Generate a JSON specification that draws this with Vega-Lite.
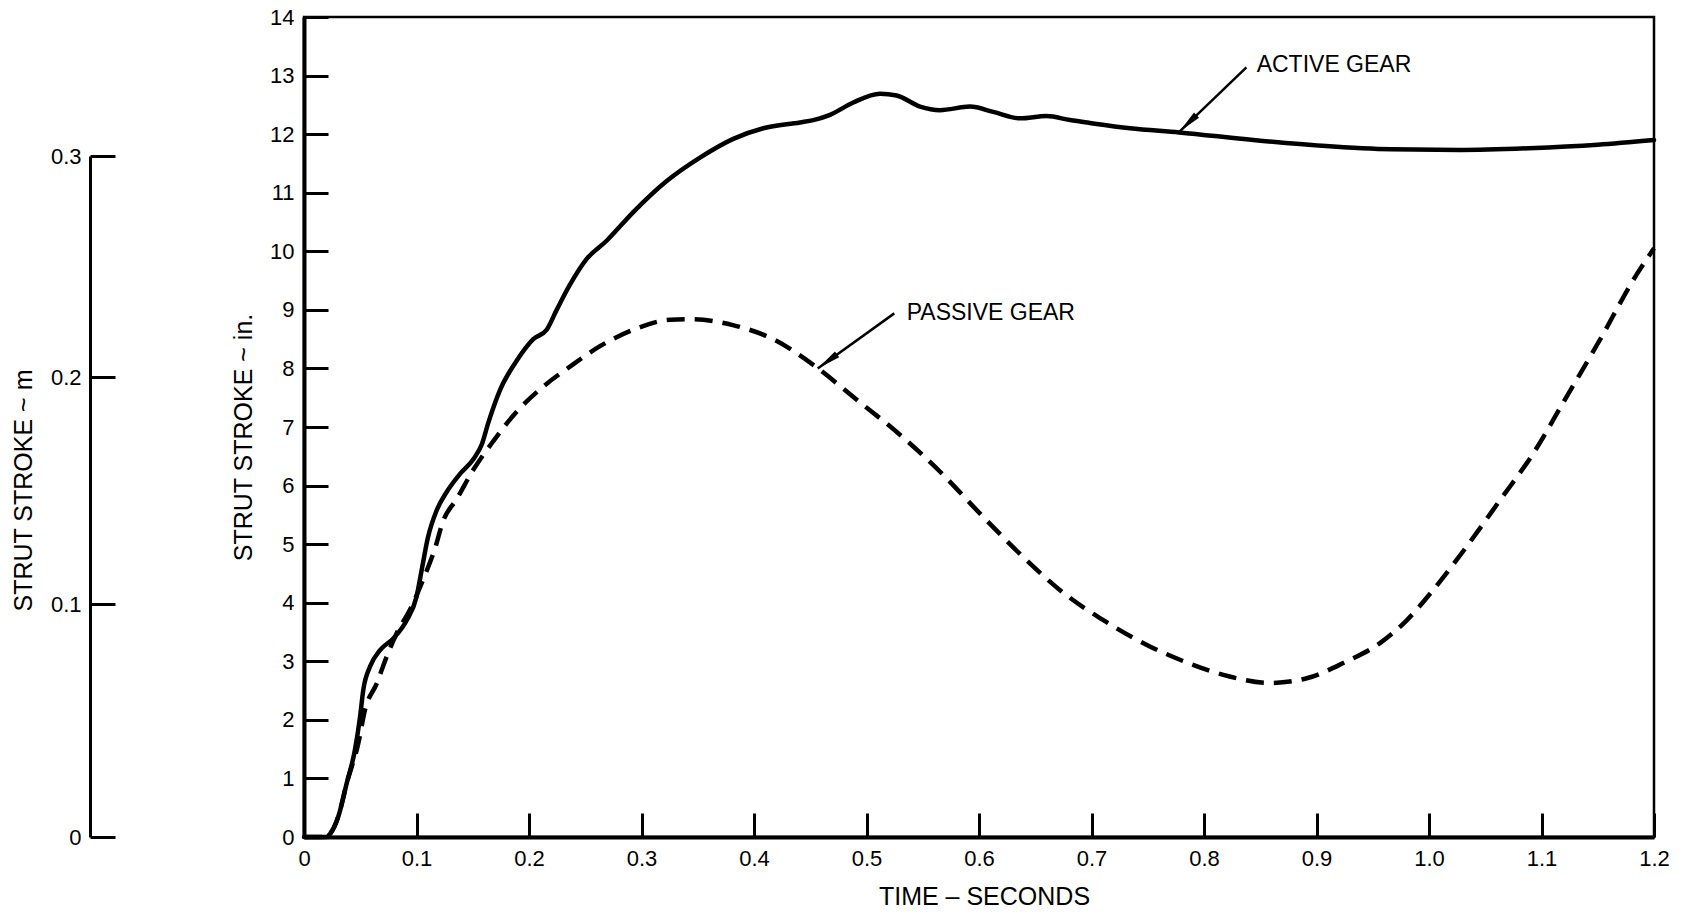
{
  "$schema": "https://vega.github.io/schema/vega-lite/v6.json",
  "width": 1350,
  "height": 820,
  "autosize": {"type": "none"},
  "padding": {"left": 304, "top": 17, "right": 36, "bottom": 75},
  "background": "white",
  "config": {
    "view": {"stroke": "black", "strokeWidth": 2.5},
    "font": "Liberation Sans",
    "axis": {
      "labelFont": "Liberation Sans", "titleFont": "Liberation Sans",
      "labelFontSize": 22, "titleFontSize": 25, "titleFontWeight": "normal",
      "labelColor": "black", "titleColor": "black", "domainColor": "black", "tickColor": "black",
      "grid": false, "labelFlush": false, "labelOverlap": false
    }
  },
  "datasets": {
    "active": [
      {"t": 0, "v": 0}, {"t": 0.02, "v": 0}, {"t": 0.023, "v": 0.05}, {"t": 0.0305, "v": 0.35},
      {"t": 0.038, "v": 0.92}, {"t": 0.0453, "v": 1.49}, {"t": 0.0498, "v": 2.05}, {"t": 0.0527, "v": 2.51},
      {"t": 0.0587, "v": 2.91}, {"t": 0.0676, "v": 3.19}, {"t": 0.0794, "v": 3.39}, {"t": 0.0913, "v": 3.7},
      {"t": 0.1, "v": 4.1}, {"t": 0.105, "v": 4.6}, {"t": 0.11, "v": 5.1}, {"t": 0.118, "v": 5.58},
      {"t": 0.1268, "v": 5.89}, {"t": 0.1387, "v": 6.2}, {"t": 0.1505, "v": 6.45}, {"t": 0.158, "v": 6.7},
      {"t": 0.1638, "v": 7.07}, {"t": 0.1742, "v": 7.63}, {"t": 0.189, "v": 8.13}, {"t": 0.2038, "v": 8.5},
      {"t": 0.2157, "v": 8.66}, {"t": 0.2246, "v": 9.0}, {"t": 0.2364, "v": 9.43}, {"t": 0.2513, "v": 9.87},
      {"t": 0.269, "v": 10.18}, {"t": 0.2927, "v": 10.67}, {"t": 0.3224, "v": 11.2}, {"t": 0.352, "v": 11.6},
      {"t": 0.3816, "v": 11.92}, {"t": 0.4083, "v": 12.1}, {"t": 0.4409, "v": 12.2}, {"t": 0.4527, "v": 12.24},
      {"t": 0.4676, "v": 12.33}, {"t": 0.4883, "v": 12.54}, {"t": 0.512, "v": 12.69}, {"t": 0.5268, "v": 12.66},
      {"t": 0.5476, "v": 12.47}, {"t": 0.5653, "v": 12.41}, {"t": 0.592, "v": 12.47}, {"t": 0.6127, "v": 12.38},
      {"t": 0.6364, "v": 12.27}, {"t": 0.6601, "v": 12.31}, {"t": 0.6809, "v": 12.24}, {"t": 0.6987, "v": 12.19},
      {"t": 0.7342, "v": 12.1}, {"t": 0.778, "v": 12.03}, {"t": 0.8438, "v": 11.9}, {"t": 0.905, "v": 11.8},
      {"t": 0.9662, "v": 11.74}, {"t": 1.0276, "v": 11.73}, {"t": 1.0887, "v": 11.76}, {"t": 1.15, "v": 11.82},
      {"t": 1.2, "v": 11.9}
    ],
    "passive": [
      {"t": 0, "v": 0}, {"t": 0.02, "v": 0}, {"t": 0.023, "v": 0.05}, {"t": 0.0305, "v": 0.35},
      {"t": 0.038, "v": 0.92}, {"t": 0.0483, "v": 1.6}, {"t": 0.0542, "v": 2.17}, {"t": 0.0646, "v": 2.62},
      {"t": 0.0735, "v": 3.08}, {"t": 0.0824, "v": 3.48}, {"t": 0.0942, "v": 3.88}, {"t": 0.106, "v": 4.4},
      {"t": 0.116, "v": 4.9}, {"t": 0.1238, "v": 5.4}, {"t": 0.1357, "v": 5.77}, {"t": 0.1505, "v": 6.27},
      {"t": 0.1683, "v": 6.76}, {"t": 0.189, "v": 7.26}, {"t": 0.2127, "v": 7.69}, {"t": 0.2364, "v": 8.03},
      {"t": 0.2631, "v": 8.38}, {"t": 0.2927, "v": 8.66}, {"t": 0.3253, "v": 8.83}, {"t": 0.3444, "v": 8.84},
      {"t": 0.3812, "v": 8.74}, {"t": 0.418, "v": 8.49}, {"t": 0.4548, "v": 8.03}, {"t": 0.4916, "v": 7.46},
      {"t": 0.5284, "v": 6.89}, {"t": 0.5652, "v": 6.24}, {"t": 0.602, "v": 5.5}, {"t": 0.6388, "v": 4.79},
      {"t": 0.6756, "v": 4.16}, {"t": 0.7124, "v": 3.68}, {"t": 0.7492, "v": 3.28}, {"t": 0.786, "v": 2.97},
      {"t": 0.8228, "v": 2.74}, {"t": 0.8587, "v": 2.63}, {"t": 0.8913, "v": 2.71}, {"t": 0.9238, "v": 2.97},
      {"t": 0.9564, "v": 3.31}, {"t": 0.9802, "v": 3.7}, {"t": 1.0038, "v": 4.22}, {"t": 1.0335, "v": 4.96},
      {"t": 1.0631, "v": 5.75}, {"t": 1.0927, "v": 6.55}, {"t": 1.1224, "v": 7.52}, {"t": 1.152, "v": 8.49},
      {"t": 1.1816, "v": 9.51}, {"t": 1.2, "v": 10.05}
    ],
    "notes": [
      {"label": "ACTIVE GEAR", "tx": 0.8468, "tv": 13.18, "x0": 0.8377, "v0": 13.14, "x1": 0.778, "v1": 12.04},
      {"label": "PASSIVE GEAR", "tx": 0.5357, "tv": 8.94, "x0": 0.5247, "v0": 8.94, "x1": 0.4566, "v1": 8.0}
    ],
    "metric": [{"m": 0}, {"m": 0.3}]
  },
  "layer": [
    {
      "layer": [
        {
          "data": {"name": "active"},
          "mark": {"type": "line", "interpolate": "monotone", "stroke": "black", "strokeWidth": 4.5, "strokeCap": "round"},
          "encoding": {
            "x": {
              "field": "t", "type": "quantitative",
              "scale": {"domain": [0, 1.2], "nice": false, "zero": false},
              "axis": {
                "title": "TIME – SECONDS",
                "values": [0, 0.1, 0.2, 0.3, 0.4, 0.5, 0.6, 0.7, 0.8, 0.9, 1.0, 1.1, 1.2],
                "labelExpr": "datum.value == 0 ? '0' : format(datum.value, '.1f')",
                "tickSize": -24, "tickWidth": 3, "domainWidth": 4, "labelPadding": 35,
                "titleX": 680, "titleY": 67, "titleBaseline": "alphabetic", "titleAlign": "center"
              }
            },
            "y": {
              "field": "v", "type": "quantitative",
              "scale": {"domain": [0, 14], "nice": false},
              "axis": {
                "title": "STRUT STROKE ~ in.",
                "values": [0, 1, 2, 3, 4, 5, 6, 7, 8, 9, 10, 11, 12, 13, 14],
                "format": "d",
                "tickSize": -24, "tickWidth": 3, "domainWidth": 4, "labelPadding": 34,
                "titleX": -53, "titleY": 420, "titleAngle": -90, "titleBaseline": "alphabetic", "titleAlign": "center"
              }
            }
          }
        },
        {
          "data": {"name": "passive"},
          "mark": {"type": "line", "interpolate": "monotone", "stroke": "black", "strokeWidth": 4.5, "strokeDash": [18, 10]},
          "encoding": {
            "x": {"field": "t", "type": "quantitative"},
            "y": {"field": "v", "type": "quantitative"}
          }
        },
        {
          "data": {"name": "notes"},
          "mark": {"type": "rule", "stroke": "black", "strokeWidth": 2.5},
          "encoding": {
            "x": {"field": "x0", "type": "quantitative"},
            "y": {"field": "v0", "type": "quantitative"},
            "x2": {"field": "x1"},
            "y2": {"field": "v1"}
          }
        },
        {
          "data": {"name": "notes"},
          "mark": {"type": "text", "align": "left", "baseline": "middle", "font": "Liberation Sans", "fontSize": 23, "color": "black"},
          "encoding": {
            "x": {"field": "tx", "type": "quantitative"},
            "y": {"field": "tv", "type": "quantitative"},
            "text": {"field": "label"}
          }
        },
        {
          "data": {"name": "notes"},
          "transform": [{"filter": "datum.label == 'ACTIVE GEAR'"}],
          "mark": {"type": "point", "shape": "M0,0L-0.3,2L0.3,2Z", "filled": true, "color": "black", "opacity": 1, "size": 576, "angle": 226},
          "encoding": {
            "x": {"field": "x1", "type": "quantitative"},
            "y": {"field": "v1", "type": "quantitative"}
          }
        },
        {
          "data": {"name": "notes"},
          "transform": [{"filter": "datum.label == 'PASSIVE GEAR'"}],
          "mark": {"type": "point", "shape": "M0,0L-0.3,2L0.3,2Z", "filled": true, "color": "black", "opacity": 1, "size": 576, "angle": 234},
          "encoding": {
            "x": {"field": "x1", "type": "quantitative"},
            "y": {"field": "v1", "type": "quantitative"}
          }
        }
      ]
    },
    {
      "data": {"name": "metric"},
      "mark": {"type": "point", "opacity": 0},
      "encoding": {
        "y": {
          "field": "m", "type": "quantitative",
          "scale": {"domain": [0, 0.1, 0.2, 0.3], "range": [820, 587, 360, 139], "nice": false, "zero": false},
          "axis": {
            "title": "STRUT STROKE ~ m",
            "orient": "left", "offset": 214,
            "values": [0, 0.1, 0.2, 0.3],
            "labelExpr": "datum.value == 0 ? '0' : format(datum.value, '.1f')",
            "tickSize": -25, "tickWidth": 3, "domainWidth": 3, "labelPadding": 34,
            "titleX": -59, "titleY": 473, "titleAngle": -90, "titleBaseline": "alphabetic", "titleAlign": "center"
          }
        }
      }
    }
  ],
  "resolve": {"scale": {"y": "independent"}}
}
